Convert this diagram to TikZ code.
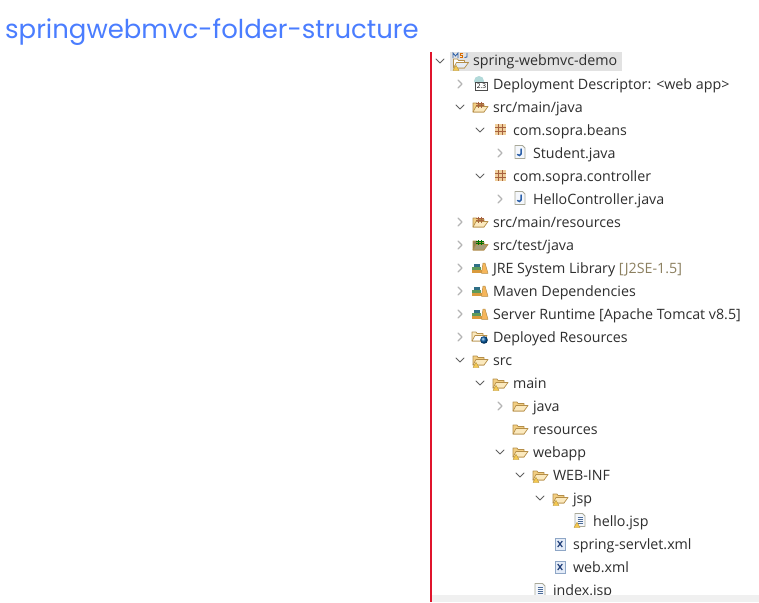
\documentclass[tikz,border=0pt]{standalone}
\usepackage{fontspec}
\setmainfont{Open Sans}
\newfontfamily\titlefont{Poppins}
\definecolor{titleblue}{HTML}{4A7DFF}
\definecolor{redline}{HTML}{E0142C}
\definecolor{selgrey}{HTML}{E2E2E2}
\definecolor{bargrey}{HTML}{F0F0F0}
\definecolor{arrowgrey}{HTML}{B4B4B4}
\definecolor{arrowdark}{HTML}{606060}
\definecolor{foldertan}{HTML}{F2CE82}
\definecolor{folderpale}{HTML}{FBE9BE}
\definecolor{folderedge}{HTML}{B58E48}
\definecolor{pkgbrown}{HTML}{A8623E}
\definecolor{pkgfill}{HTML}{EFCF9C}
\definecolor{decor}{HTML}{8C8060}
\definecolor{olive}{HTML}{8F8358}
\definecolor{javablue}{HTML}{2B5FA8}
\definecolor{sheetedge}{HTML}{A8A898}
\definecolor{sheetfill}{HTML}{F4F7FC}
\definecolor{xmledge}{HTML}{8EA6C6}
\definecolor{xmlfill}{HTML}{E4ECF8}
\definecolor{xmlnavy}{HTML}{22407A}
\definecolor{warn}{HTML}{F5C850}
\definecolor{booktop}{HTML}{2F6F86}
\definecolor{bookmid}{HTML}{5E9A5A}
\definecolor{bookbot}{HTML}{D99A3C}
\tikzset{
  x=1pt,y=-1pt,
  rowtext/.style={anchor=base west,inner sep=0pt,outer sep=0pt,font=\fontsize{14.25}{16}\selectfont,text=black!82},
  titletext/.style={anchor=base west,inner sep=0pt,font=\titlefont\fontsize{25.95}{30}\selectfont,text=titleblue},
  closedtw/.style={draw=arrowgrey,line width=1.1pt,line cap=round,line join=round},
  opentw/.style={draw=arrowdark,line width=1pt,line cap=round,line join=round},
}
% twisties
\newcommand{\twclosed}[2]{\draw[closedtw] (#1-2,#2-4) -- (#1+2,#2) -- (#1-2,#2+4);}
\newcommand{\twopen}[2]{\draw[opentw] (#1-4,#2-2) -- (#1,#2+2) -- (#1+4,#2-2);}
% folder centred on (x,y)
\newcommand{\fldrc}[4]{%
  \begin{scope}[shift={(#1,#2)}]
    \filldraw[fill=#3,draw=folderedge,line width=.7pt,line join=round]
      (-7,5) -- (-7,-4) -- (-3,-4) -- (-2,-2.5) -- (4,-2.5) -- (4,5) -- cycle;
    \filldraw[fill=#4,draw=folderedge,line width=.7pt,line join=round]
      (-7,5) -- (-4,-.5) -- (8,-.5) -- (4,5) -- cycle;
  \end{scope}}
\newcommand{\fldr}[2]{\fldrc{#1}{#2}{foldertan}{folderpale}}
\newcommand{\wmark}[2]{%
  \filldraw[fill=warn,draw=warn!75!black,line width=.4pt,line join=round] (#1-3,#2+5.5) -- (#1,#2+.3) -- (#1+3,#2+5.5) -- cycle;}
% source folder with package grid
\newcommand{\srcf}[3]{%
  \fldr{#1}{#2}
  \draw[#3,line width=.9pt] (#1-1.5,#2-5.5) -- (#1-1.5,#2+.5) (#1+1.5,#2-5.5) -- (#1+1.5,#2+.5)
    (#1-4,#2-4) -- (#1+4,#2-4) (#1-4,#2-1.5) -- (#1+4,#2-1.5);}
\newcommand{\pkgi}[2]{%
  \begin{scope}[shift={(#1,#2)}]
    \fill[pkgfill] (-5.5,-5.5) rectangle (5.5,5.5);
    \draw[pkgbrown,line width=1.2pt] (-5.5,-1.7) -- (5.5,-1.7) (-5.5,1.7) -- (5.5,1.7) (-1.7,-5.5) -- (-1.7,5.5) (1.7,-5.5) -- (1.7,5.5);
  \end{scope}}
% sheet
\newcommand{\sheet}[2]{%
  \filldraw[fill=sheetfill,draw=sheetedge,line width=.8pt,line join=round]
    (#1-5,#2-6.5) -- (#1+2.5,#2-6.5) -- (#1+5,#2-4) -- (#1+5,#2+6.5) -- (#1-5,#2+6.5) -- cycle;}
\newcommand{\javai}[2]{%
  \sheet{#1}{#2}
  \draw[javablue,line width=1.5pt,line cap=round] (#1+1,#2-3) -- (#1+1,#2+2) -- (#1-.5,#2+3.5) -- (#1-2.5,#2+2.5);}
\newcommand{\xmli}[2]{%
  \filldraw[fill=xmlfill,draw=xmledge,line width=.8pt] (#1-5,#2-6) rectangle (#1+5,#2+6);
  \draw[xmlnavy,line width=1.2pt] (#1-2.3,#2-3) -- (#1+2.3,#2+3) (#1+2.3,#2-3) -- (#1-2.3,#2+3);}
\newcommand{\jspi}[2]{%
  \sheet{#1}{#2}
  \draw[javablue!60!gray,line width=.8pt] (#1-2.5,#2-3) -- (#1+2.5,#2-3) (#1-2.5,#2-1) -- (#1+3,#2-1)
    (#1-2.5,#2+1) -- (#1+3,#2+1) (#1-2.5,#2+3) -- (#1+3,#2+3);}
\newcommand{\libi}[2]{%
  \begin{scope}[shift={(#1,#2)}]
    \fill[booktop] (-6.5,-4.5) rectangle (-.5,-1.5);
    \fill[bookmid] (-8,-1.2) rectangle (.5,1.6);
    \fill[bookbot] (-8,1.9) rectangle (1.5,5.3);
    \filldraw[fill=foldertan!70!orange,draw=folderedge,line width=.5pt,line join=round] (1.5,5.3) -- (3,-5) -- (5,-5) -- (8,5.3) -- cycle;
  \end{scope}}
\begin{document}
\begin{tikzpicture}
\useasboundingbox (0,0) rectangle (759,602);
\fill[white] (0,0) rectangle (759,602);
\node[titletext] (title) at (5,39) {springwebmvc-folder-structure};
\fill[selgrey] (450,52) rectangle (622,71);
% rows
\node[rowtext] (r0) at (473,66) {spring-webmvc-demo};
\node[rowtext] (r1) at (493,89) {Deployment Descriptor: <web app>};
\node[rowtext] (r2) at (493,112) {src/main/java};
\node[rowtext] (r3) at (513,135) {com.sopra.beans};
\node[rowtext] (r4) at (533,158) {Student.java};
\node[rowtext] (r5) at (513,181) {com.sopra.controller};
\node[rowtext] (r6) at (533,204) {HelloController.java};
\node[rowtext] (r7) at (493,227) {src/main/resources};
\node[rowtext] (r8) at (493,250) {src/test/java};
\node[rowtext] (r9) at (493,273) {JRE System Library \textcolor{decor}{[J2SE-1.5]}};
\node[rowtext] (r10) at (493,296) {Maven Dependencies};
\node[rowtext] (r11) at (493,319) {Server Runtime [Apache Tomcat v8.5]};
\node[rowtext] (r12) at (493,342) {Deployed Resources};
\node[rowtext] (r13) at (493,365) {src};
\node[rowtext] (r14) at (513,388) {main};
\node[rowtext] (r15) at (533,411) {java};
\node[rowtext] (r16) at (533,434) {resources};
\node[rowtext] (r17) at (533,457) {webapp};
\node[rowtext] (r18) at (553,480) {WEB-INF};
\node[rowtext] (r19) at (573,503) {jsp};
\node[rowtext] (r20) at (593,526) {hello.jsp};
\node[rowtext] (r21) at (573,549) {spring-servlet.xml};
\node[rowtext] (r22) at (573,572) {web.xml};
\node[rowtext] (r23) at (553,595) {index.jsp};
% twisties
\twopen{440}{61}
\twclosed{460}{84}
\twopen{460}{107}
\twopen{480}{130}
\twclosed{500}{153}
\twopen{480}{176}
\twclosed{500}{199}
\twclosed{460}{222}
\twclosed{460}{245}
\twclosed{460}{268}
\twclosed{460}{291}
\twclosed{460}{314}
\twclosed{460}{337}
\twopen{460}{360}
\twopen{480}{383}
\twclosed{500}{406}
\twopen{500}{452}
\twopen{520}{475}
\twopen{540}{498}
% icons
\fldrc{460.5}{63}{white}{javablue!12}
\draw[javablue,line width=.8pt] (453,58) -- (453,53) -- (455.5,56) -- (458,53) -- (458,58);
\draw[orange!85!black,line width=.8pt] (462.5,53.5) -- (460,53.5) -- (460,55.5) -- (462.5,55.5) -- (462.5,57.5) -- (460,57.5);
\draw[javablue,line width=.8pt] (467,53) -- (467,57) -- (464.5,57.5);
\wmark{456}{65}
\begin{scope}[shift={(480,84)}]
  \fill[teal!30] (-1,-3) circle (5);
  \filldraw[fill=white,draw=black!70,line width=.7pt] (-4.5,-2) rectangle (7.5,6);
  \node[inner sep=0pt,font=\fontsize{6.5}{6}\selectfont,text=black] (r1num) at (1.5,2) {2.3};
\end{scope}
\srcf{480}{107}{pkgbrown}
\pkgi{500.5}{129.5}
\javai{520}{152}
\pkgi{500.5}{175.5}
\javai{520}{198}
\srcf{480}{222}{pkgbrown}
\fldrc{480}{245}{olive}{olive!80!white}
\draw[green!45!black,line width=.9pt] (478.5,240) -- (478.5,245) (481.5,240) -- (481.5,245) (476,241.5) -- (484,241.5) (476,243.5) -- (484,243.5);
\libi{480}{268}
\libi{480}{291}
\libi{480}{314}
\fldrc{479}{336}{folderpale}{white}
\shade[ball color=teal!70!blue] (484,340) circle (3.8);
\fldr{480}{360}\wmark{476}{362}
\fldr{500}{383}\wmark{496}{385}
\fldr{520}{406}
\fldr{520}{429}
\fldr{520}{452}\wmark{516}{454}
\fldr{540}{475}\wmark{536}{477}
\fldr{560}{498}\wmark{556}{500}
\jspi{580}{520}\wmark{577}{522}
\xmli{560}{544}
\xmli{560}{567}
\jspi{540}{590}
% chrome
\fill[bargrey] (432,595) rectangle (759,602);
\fill[redline] (429.5,52) rectangle (431.5,602);
\end{tikzpicture}
\end{document}
